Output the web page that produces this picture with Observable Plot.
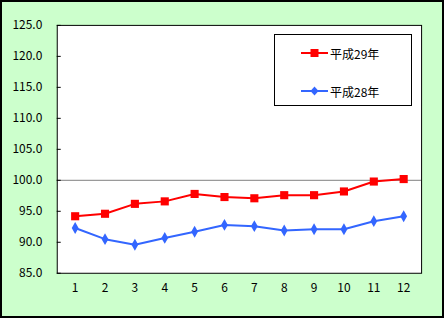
<!DOCTYPE html>
<html><head><meta charset="utf-8">
<script src="https://cdn.jsdelivr.net/npm/d3@7"></script>
<script src="https://cdn.jsdelivr.net/npm/@observablehq/plot@0.6"></script>
<style>
html,body{margin:0;padding:0;}
#wrap{position:relative;width:444px;height:318px;box-sizing:border-box;border:2px solid #000;background:#CCFFCC;font-family:"Noto Sans CJK JP","DejaVu Sans",sans-serif;overflow:hidden;}
#chart{position:absolute;left:-2px;top:-2px;}
#legend{position:absolute;left:272px;top:32px;width:138px;height:72px;box-sizing:border-box;border:1px solid #000;background:#fff;}
.item{position:absolute;left:26px;height:16px;display:flex;align-items:center;font-size:12px;color:#000;}
.item svg{margin-right:2px;}
</style></head>
<body><div id="wrap"><div id="chart"></div><div id="legend"></div></div>
<script>
const months = [1,2,3,4,5,6,7,8,9,10,11,12];
const h29 = [94.2,94.6,96.2,96.6,97.8,97.3,97.1,97.6,97.6,98.2,99.8,100.2];
const h28 = [92.3,90.5,89.6,90.7,91.7,92.8,92.6,91.9,92.1,92.1,93.4,94.2];
const yTicks = [85,90,95,100,105,110,115,120,125];
const seriesNames = ["平成29年","平成28年"];
const colors = ["#FF0000","#3366FF"];

const d29 = months.map((m,i)=>({m, v:h29[i]}));
const d28 = months.map((m,i)=>({m, v:h28[i]}));

const plot = Plot.plot({
  width: 444, height: 318,
  marginLeft: 57, marginRight: 21, marginTop: 25, marginBottom: 44,
  style: {background: "transparent", fontFamily: '"Noto Sans CJK JP","DejaVu Sans",sans-serif', fontSize: "12px", color: "#000"},
  x: {type: "point", domain: months, padding: 0.5, label: null},
  y: {domain: [85,125], label: null},
  marks: [
    Plot.frame({fill: "white", stroke: null}),
    Plot.ruleY([100], {stroke: "#808080", strokeWidth: 1}),
    Plot.tickY(yTicks, {y: d=>d, stroke: "#000", insetRight: 362}),
    Plot.axisY({ticks: yTicks, tickSize: 0, tickPadding: 15, tickFormat: d3.format(".1f"), fill: "#000", label: null}),
    Plot.axisX({tickSize: 0, tickPadding: 10, fill: "#000", label: null}),
    Plot.line(d28, {x: "m", y: "v", stroke: colors[1], strokeWidth: 2}),
    Plot.dot(d28, {x: "m", y: "v", symbol: "diamond", r: 3.6, fill: colors[1], stroke: null}),
    Plot.line(d29, {x: "m", y: "v", stroke: colors[0], strokeWidth: 2}),
    Plot.dot(d29, {x: "m", y: "v", symbol: "square", r: 4.6, fill: colors[0], stroke: null}),
    Plot.frame({stroke: "#000", strokeWidth: 1})
  ]
});
document.getElementById("chart").appendChild(plot);

const legend = document.getElementById("legend");
const tops = [10, 48];
seriesNames.forEach((name, i) => {
  const item = document.createElement("div");
  item.className = "item";
  item.style.top = tops[i] + "px";
  const marker = i === 0
    ? `<rect x="9.5" y="4" width="8" height="8" fill="${colors[0]}"/>`
    : `<path d="M13.5,3.5 L17.5,8 L13.5,12.5 L9.5,8 Z" fill="${colors[1]}"/>`;
  item.innerHTML = `<svg width="27" height="16"><line x1="0" y1="8" x2="27" y2="8" stroke="${colors[i]}" stroke-width="2"/>${marker}</svg><span>${name}</span>`;
  legend.appendChild(item);
});
</script></body></html>
